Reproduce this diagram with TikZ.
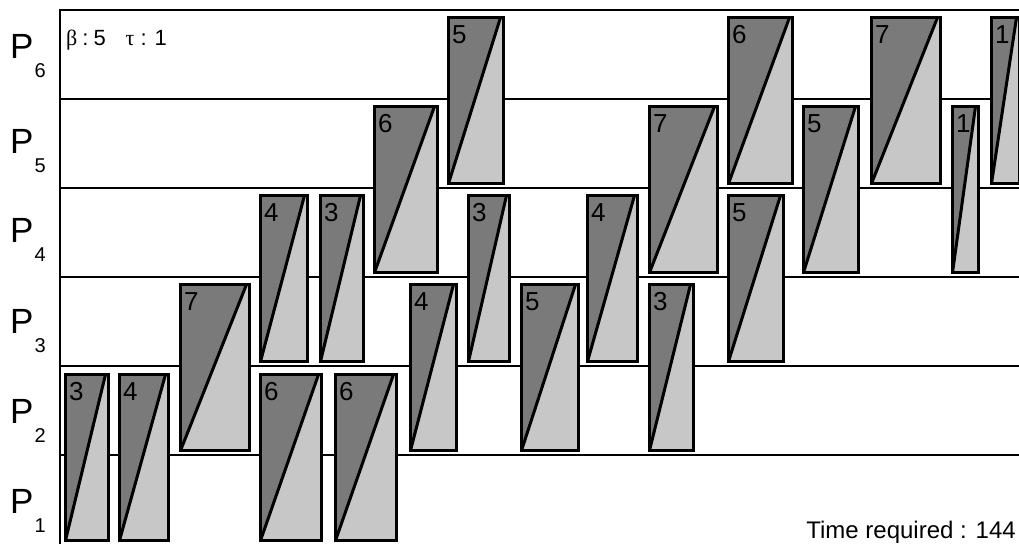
\documentclass[tikz,border=0pt]{standalone}
\usepackage{fontspec}
\setmainfont{Liberation Sans}
\newfontfamily\greekfont{Liberation Serif}
\usetikzlibrary{positioning}
\colorlet{darkfill}{black!52}
\colorlet{lightfill}{black!22}
\newcommand{\psub}[1]{\hspace{1pt}\raisebox{-19pt}{\fontsize{20}{20}\selectfont #1}}

\begin{document}
\begin{tikzpicture}[x=1pt, y=-1pt,
    task/.style={draw, line width=3pt, anchor=north west, inner sep=0pt, minimum height=166pt,
        path picture={
            \fill[darkfill] (path picture bounding box.north west) -- ([xshift=-3pt]path picture bounding box.north east) -- (path picture bounding box.south west) -- cycle;
            \fill[lightfill] ([xshift=-3pt]path picture bounding box.north east) -- (path picture bounding box.north east) -- (path picture bounding box.south east) -- (path picture bounding box.south west) -- cycle;
            \draw[line width=3pt] (path picture bounding box.south west) -- ([xshift=-3pt]path picture bounding box.north east);
        }},
    num/.style={font=\fontsize{26}{26}\selectfont, inner sep=0pt, anchor=north west, xshift=5pt, yshift=-9pt},
    rowline/.style={line width=2.6pt},
    plabel/.style={font=\fontsize{35}{35}\selectfont, inner sep=0pt, anchor=base west}
]
    \useasboundingbox (0,0) rectangle (1019,544);
    \clip (0,0) rectangle (1019,544);

    % frame and processor rows
    \draw[rowline] (60,544) -- (60,10) -- (1019,10);
    \draw[rowline] (60,99) -- (1019,99);
    \draw[rowline] (60,188) -- (1019,188);
    \draw[rowline] (60,277) -- (1019,277);
    \draw[rowline] (60,366) -- (1019,366);
    \draw[rowline] (60,455) -- (1019,455);

    \node[plabel] (p6) at (10,58) {P\psub{6}};
    \node[plabel] (p5) at (10,153) {P\psub{5}};
    \node[plabel] (p4) at (10,242) {P\psub{4}};
    \node[plabel] (p3) at (10,333) {P\psub{3}};
    \node[plabel] (p2) at (10,423) {P\psub{2}};
    \node[plabel] (p1) at (10,513) {P\psub{1}};

    \node[font=\fontsize{22}{22}\selectfont, inner sep=0pt, anchor=base west] (params) at (66,45)
        {{\greekfont β}\hspace{5pt}:\hspace{5pt}5\hspace{20pt}{\greekfont τ}\hspace{6pt}:\hspace{8pt}1};

    % tasks on P1--P2
    \node[task, minimum width=43pt, label={[num]north west:3}] (t12a) at (64,373) {};
    \node[task, minimum width=49pt, label={[num]north west:4}] (t12b) at (118,373) {};
    \node[task, minimum width=61pt, label={[num]north west:6}] (t12c) at (259,373) {};
    \node[task, minimum width=61pt, label={[num]north west:6}] (t12d) at (334,373) {};

    % tasks on P2--P3
    \node[task, minimum width=69pt, label={[num]north west:7}] (t23a) at (179,283) {};
    \node[task, minimum width=46pt, label={[num]north west:4}] (t23b) at (409,283) {};
    \node[task, minimum width=57pt, label={[num]north west:5}] (t23c) at (520,283) {};
    \node[task, minimum width=44pt, label={[num]north west:3}] (t23d) at (648,283) {};

    % tasks on P3--P4
    \node[task, minimum width=47pt, label={[num]north west:4}] (t34a) at (259,194) {};
    \node[task, minimum width=43pt, label={[num]north west:3}] (t34b) at (319,194) {};
    \node[task, minimum width=41pt, label={[num]north west:3}] (t34c) at (467,194) {};
    \node[task, minimum width=50pt, label={[num]north west:4}] (t34d) at (586,194) {};
    \node[task, minimum width=55pt, label={[num]north west:5}] (t34e) at (727,194) {};

    % tasks on P4--P5
    \node[task, minimum width=63pt, label={[num]north west:6}] (t45a) at (373,105) {};
    \node[task, minimum width=68pt, label={[num]north west:7}] (t45b) at (648,105) {};
    \node[task, minimum width=55pt, label={[num]north west:5}] (t45c) at (802,105) {};
    \node[task, minimum width=26pt, label={[num]north west:1}] (t45d) at (951,105) {};

    % tasks on P5--P6
    \node[task, minimum width=55pt, label={[num]north west:5}] (t56a) at (447,16) {};
    \node[task, minimum width=64pt, label={[num]north west:6}] (t56b) at (727,16) {};
    \node[task, minimum width=69pt, label={[num]north west:7}] (t56c) at (870,16) {};
    \node[task, minimum width=28pt, label={[num]north west:1}] (t56d) at (990,16) {};

    \node[font=\fontsize{24}{24}\selectfont, inner sep=0pt, anchor=base east] (time) at (1016,538) {Time required : 144};
\end{tikzpicture}
\end{document}
